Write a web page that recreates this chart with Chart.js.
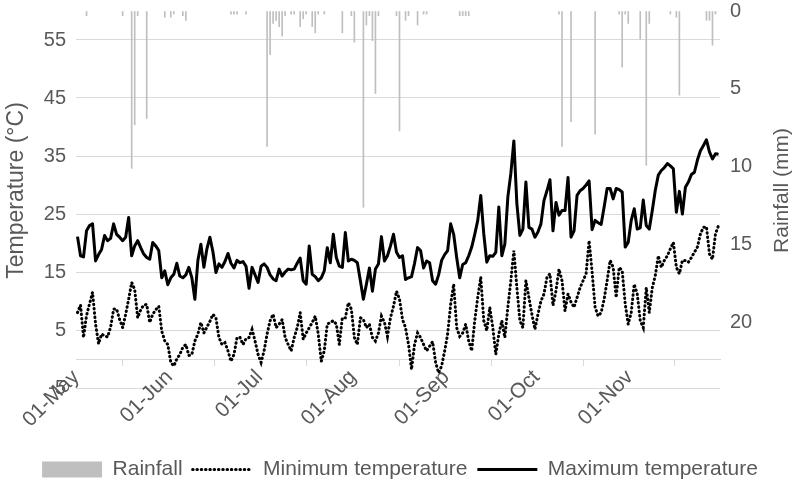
<!DOCTYPE html>
<html>
<head>
<meta charset="utf-8">
<title>Temperature and rainfall</title>
<script src="https://cdn.jsdelivr.net/npm/chart.js@4.4.1/dist/chart.umd.min.js"></script>
<style>
  html, body { margin: 0; padding: 0; background: #fff; }
  canvas { display: block; }
</style>
</head>
<body>
<canvas id="weatherChart" width="800" height="494"></canvas>
<script>
// day index 0 = 01-May, 213 = 30-Nov
const monthStarts = [0, 31, 61, 92, 123, 153, 184, 214];
const monthLabels = ['01-May', '01-Jun', '01-Jul', '01-Aug', '01-Sep', '01-Oct', '01-Nov', ''];

const tempTicks = [-5, 5, 15, 25, 35, 45, 55];
const rainTicks = [0, 5, 10, 15, 20];

const maxTemp = [
    // May
    21.1, 17.8, 17.6, 22.1, 23.0, 23.3, 16.9, 18.0, 18.9, 21.3,
    20.4, 20.8, 23.3, 21.5, 21.0, 20.4, 21.0, 24.4, 17.8, 19.5,
    20.4, 19.2, 18.1, 17.5, 17.2, 20.1, 19.5, 18.7, 14.0, 15.2,
    12.8,
    // Jun
    14.0, 14.6, 16.5, 14.3, 14.0, 14.5, 15.8, 14.0, 10.3, 17.0,
    19.8, 15.8, 19.0, 21.0, 18.5, 14.9, 16.4, 15.8, 16.8, 18.2,
    16.5, 15.7, 17.0, 16.6, 16.8, 16.0, 12.2, 15.8, 14.5, 13.2,
    // Jul
    16.0, 16.4, 15.8, 14.5, 13.8, 13.5, 15.5, 14.3, 15.0, 15.5,
    15.4, 15.5, 16.5, 17.4, 13.5, 12.9, 19.5, 14.6, 14.2, 13.5,
    14.0, 15.2, 19.2, 16.6, 21.5, 17.5, 16.0, 15.8, 21.8, 16.9,
    17.2,
    // Aug
    17.0, 16.6, 13.5, 10.3, 12.9, 15.7, 11.7, 15.5, 16.4, 21.1,
    16.9, 17.8, 19.5, 21.5, 18.4, 17.5, 17.8, 13.7, 14.0, 14.2,
    16.5, 19.2, 18.7, 15.7, 16.9, 16.6, 13.5, 12.9, 14.5, 17.0,
    18.0,
    // Sep
    18.7, 23.3, 21.5, 17.5, 14.0, 16.3, 16.6, 17.8, 19.3, 21.5,
    23.9, 28.2, 21.6, 16.7, 17.8, 17.7, 18.4, 26.2, 17.8, 19.8,
    27.9, 32.0, 37.6, 26.8, 21.3, 22.4, 30.5, 22.7, 22.4, 21.0,
    // Oct
    21.9, 23.3, 27.3, 29.0, 30.9, 22.1, 27.0, 24.8, 25.6, 25.6,
    31.3, 21.0, 22.1, 28.2, 29.0, 29.4, 30.0, 30.7, 22.3, 23.9,
    23.5, 23.2, 26.2, 29.4, 29.4, 27.6, 29.4, 29.2, 28.8, 19.3,
    20.1,
    // Nov
    23.9, 25.9, 22.4, 22.6, 27.4, 23.0, 22.4, 25.6, 29.1, 31.7,
    32.5, 33.0, 33.7, 33.3, 32.8, 25.3, 28.9, 25.0, 29.6, 30.5,
    31.8, 32.2, 34.3, 35.9, 36.8, 37.8, 35.7, 34.5, 35.4, 35.3
];

const minTemp = [
    // May
    8.0, 9.3, 3.7, 7.5, 9.5, 11.5, 6.0, 2.6, 4.3, 4.0,
    3.8, 5.5, 8.6, 8.6, 6.8, 5.4, 7.7, 10.3, 13.2, 12.0,
    7.1, 8.5, 9.3, 9.4, 6.3, 7.7, 8.5, 9.1, 4.8, 3.1,
    2.5,
    // Jun
    -0.6, -1.2, 0.0, 0.8, 2.0, 2.5, 0.6, 0.8, 3.1, 4.3,
    6.3, 4.5, 5.5, 6.5, 7.7, 7.1, 3.7, 2.5, 2.8, 1.4,
    -0.4, 0.8, 3.7, 3.7, 2.5, 3.5, 3.7, 5.1, 3.1, 0.8,
    // Jul
    -0.6, 1.4, 4.3, 6.6, 7.7, 5.4, 6.0, 6.8, 3.7, 2.5,
    1.4, 3.7, 5.4, 8.0, 3.4, 4.5, 5.4, 6.3, 7.4, 4.3,
    -0.4, 1.4, 6.0, 6.3, 6.6, 6.0, 2.5, 7.1, 7.1, 9.7,
    8.6,
    // Aug
    3.7, 2.5, 7.1, 6.8, 5.4, 6.0, 3.7, 3.1, 4.5, 7.4,
    6.3, 3.9, 7.1, 9.1, 11.7, 10.3, 6.8, 5.4, 2.5, -1.8,
    2.5, 4.5, 3.7, 2.5, 1.4, 2.2, 3.0, -0.6, -2.4, -1.2,
    1.4,
    // Sep
    4.3, 9.4, 12.9, 5.4, 3.9, 4.5, 6.0, 3.1, 1.4, 6.6,
    10.6, 14.1, 6.6, 4.9, 8.9, 5.4, 0.8, 4.3, 6.6, 3.7,
    8.9, 13.5, 18.7, 12.3, 6.6, 5.4, 13.5, 10.6, 7.7, 5.1,
    // Oct
    7.7, 10.0, 11.2, 14.1, 14.7, 9.2, 11.8, 15.5, 13.5, 8.3,
    11.2, 9.8, 8.9, 10.6, 12.3, 13.5, 14.7, 20.4, 15.0, 8.9,
    7.4, 8.0, 10.3, 13.5, 17.0, 15.8, 10.6, 15.8, 15.2, 9.5,
    6.0,
    // Nov
    8.0, 12.9, 11.2, 6.6, 5.4, 12.3, 8.0, 12.3, 14.4, 17.8,
    15.8, 17.0, 17.8, 19.0, 20.1, 15.8, 14.7, 17.0, 17.0, 16.7,
    17.5, 18.4, 19.3, 21.6, 22.7, 22.8, 18.1, 17.2, 21.6, 23.0
];

// rainy days only (day index) and the amount that fell
const rainDay = [3, 15, 18, 19, 20, 23, 29, 31, 32, 35,
    36, 51, 52, 53, 56, 63, 64, 65, 66, 67,
    68, 69, 71, 72, 74, 75, 76, 78, 79, 80,
    82, 88, 91, 92, 95, 96, 97, 98, 99, 100,
    106, 107, 109, 110, 113, 115, 116, 127, 128, 129,
    130, 160, 161, 164, 172, 180, 181, 182, 183, 187,
    189, 190, 197, 199, 200, 209, 210, 211, 212];
const rainMm = [0.3, 0.3, 10.1, 7.3, 0.3, 6.9, 0.4, 0.4, 0.2, 0.3,
    0.6, 0.2, 0.2, 0.2, 0.2, 8.7, 2.8, 0.8, 0.6, 1.0,
    1.6, 0.3, 0.2, 0.2, 1.0, 0.5, 0.2, 1.0, 1.4, 0.2,
    0.2, 1.4, 0.3, 2.0, 12.6, 0.9, 0.3, 1.9, 5.3, 0.3,
    0.3, 7.7, 0.6, 0.3, 0.9, 0.2, 0.2, 0.3, 0.3, 0.3,
    0.3, 0.2, 8.7, 7.1, 7.9, 0.2, 3.6, 0.2, 0.8, 1.8,
    9.9, 0.8, 0.2, 0.4, 5.4, 0.6, 0.6, 2.2, 0.2];

const textGrey = '#595959';
const gridGrey = '#d9d9d9';
const fontFamily = '"Liberation Sans", Arial, sans-serif';

Chart.defaults.font.family = fontFamily;
Chart.defaults.font.size = 20;
Chart.defaults.color = textGrey;

// both axis titles read bottom to top, like Excel draws them
const axisTitles = {
    id: 'axisTitles',
    afterDraw(chart) {
        const c = chart.ctx;
        const area = chart.chartArea;
        const midY = (area.top + area.bottom) / 2 - 9;
        const draw = (text, x, size) => {
            c.save();
            c.translate(x, midY);
            c.rotate(-Math.PI / 2);
            c.font = size + 'px ' + fontFamily;
            c.fillStyle = textGrey;
            c.textAlign = 'center';
            c.textBaseline = 'middle';
            c.fillText(text, 0, 0);
            c.restore();
        };
        draw('Temperature (°C)', 17, 23);
        draw('Rainfall (mm)', chart.width - 18, 21);
    }
};

const ctx = document.getElementById('weatherChart').getContext('2d');

new Chart(ctx, {
    data: {
        datasets: [
            {
                type: 'bar',
                label: 'Rainfall',
                data: rainDay.map((d, i) => ({ x: d, y: rainMm[i] })),
                yAxisID: 'y1',
                backgroundColor: '#bfbfbf',
                borderWidth: 0,
                barThickness: 1,
                order: 3
            },
            {
                type: 'line',
                label: 'Minimum temperature',
                data: minTemp.map((v, i) => ({ x: i, y: v })),
                yAxisID: 'y',
                borderColor: '#000',
                borderWidth: 3,
                borderDash: [0.5, 3.8],
                borderCapStyle: 'round',
                pointRadius: 0,
                tension: 0,
                order: 2
            },
            {
                type: 'line',
                label: 'Maximum temperature',
                data: maxTemp.map((v, i) => ({ x: i, y: v })),
                yAxisID: 'y',
                borderColor: '#000',
                borderWidth: 3,
                borderJoinStyle: 'round',
                pointRadius: 0,
                tension: 0,
                order: 1
            }
        ]
    },
    options: {
        responsive: false,
        animation: false,
        layout: { padding: { top: 11, bottom: 4 } },
        plugins: {
            tooltip: { enabled: false },
            legend: {
                position: 'bottom',
                labels: {
                    usePointStyle: true,
                    pointStyleWidth: 60,
                    boxHeight: 16,
                    padding: 10,
                    color: textGrey,
                    font: { size: 21 },
                    sort: (a, b) => a.datasetIndex - b.datasetIndex,
                    generateLabels(chart) {
                        const items = Chart.defaults.plugins.legend.labels.generateLabels(chart);
                        items.forEach(item => {
                            const ds = chart.data.datasets[item.datasetIndex];
                            if (ds.type === 'bar') {
                                item.pointStyle = 'rect';
                                item.fillStyle = ds.backgroundColor;
                                item.strokeStyle = ds.backgroundColor;
                                item.lineWidth = 0;
                            } else {
                                item.pointStyle = 'line';
                                item.strokeStyle = ds.borderColor;
                                item.lineWidth = ds.borderWidth;
                                item.lineDash = ds.borderDash || [];
                                item.lineCap = ds.borderCapStyle || 'butt';
                            }
                        });
                        return items;
                    }
                }
            }
        },
        scales: {
            x: {
                type: 'linear',
                position: { y: 0 },
                offset: false,
                min: -0.5,
                max: 213.5,
                afterBuildTicks(scale) {
                    scale.ticks = monthStarts.map(d => ({ value: d - 0.5 }));
                },
                afterFit(scale) {
                    scale.paddingTop = 0;
                    scale.paddingBottom = 0;
                },
                ticks: {
                    autoSkip: false,
                    minRotation: 45,
                    maxRotation: 45,
                    padding: 0,
                    font: { size: 21 },
                    callback: (value, index) => monthLabels[index]
                },
                grid: {
                    drawOnChartArea: false,
                    drawTicks: true,
                    tickLength: 6,
                    color: gridGrey
                },
                border: { color: gridGrey }
            },
            xPad: {
                type: 'linear',
                position: 'bottom',
                offset: false,
                display: true,
                ticks: { display: false },
                grid: { display: false },
                border: { display: false },
                afterFit(scale) { scale.height = 61; }
            },
            y: {
                type: 'linear',
                position: 'left',
                min: -5,
                max: 60,
                afterBuildTicks(scale) {
                    scale.ticks = tempTicks.map(v => ({ value: v }));
                },
                afterFit(scale) {
                    scale.width = 76;
                    scale.paddingTop = 0;
                    scale.paddingBottom = 0;
                },
                ticks: { padding: 10 },
                grid: { color: gridGrey, drawTicks: false },
                border: { display: false }
            },
            y1: {
                type: 'linear',
                position: 'right',
                reverse: true,
                min: 0,
                max: 24.2,
                afterBuildTicks(scale) {
                    scale.ticks = rainTicks.map(v => ({ value: v }));
                },
                afterFit(scale) {
                    scale.width = 80;
                    scale.paddingTop = 0;
                    scale.paddingBottom = 0;
                },
                ticks: { padding: 10 },
                grid: { drawOnChartArea: false, drawTicks: false },
                border: { display: false }
            }
        }
    },
    plugins: [axisTitles]
});
</script>
</body>
</html>
